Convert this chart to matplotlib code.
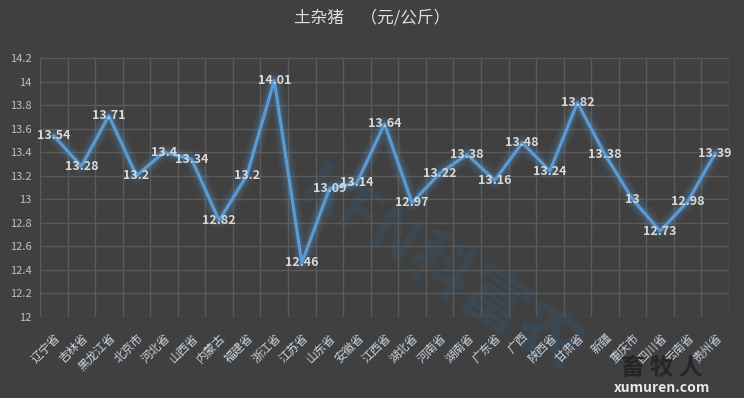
import matplotlib.pyplot as plt
import numpy as np
from matplotlib.ticker import MultipleLocator, FuncFormatter

plt.rcParams['font.family'] = ['Noto Sans CJK SC', 'DejaVu Sans']

provinces = ['辽宁省', '吉林省', '黑龙江省', '北京市', '河北省', '山西省', '内蒙古',
             '福建省', '浙江省', '江苏省', '山东省', '安徽省', '江西省', '湖北省',
             '河南省', '湖南省', '广东省', '广西', '陕西省', '甘肃省', '新疆',
             '重庆市', '四川省', '云南省', '贵州省']
prices = [13.54, 13.28, 13.71, 13.2, 13.4, 13.34, 12.82, 13.2, 14.01, 12.46,
          13.09, 13.14, 13.64, 12.97, 13.22, 13.38, 13.16, 13.48, 13.24, 13.82,
          13.38, 13, 12.73, 12.98, 13.39]
title = '土杂猪　（元/公斤）'

bg = '#404040'
fig = plt.figure(figsize=(7.44, 3.98), dpi=100, facecolor=bg)
ax = fig.add_axes([40/744, 81/398, 689/744, 259/398])
ax.set_facecolor(bg)

x = np.arange(len(provinces))

# watermark
ax.text(0.58, 0.18, 'KFN科富农', transform=ax.transAxes, fontsize=46, fontweight='bold',
        color='#2f5f86', alpha=0.25, rotation=-33, ha='center', va='center', zorder=0)

# glow around the line
for lw, a in [(13, 0.04), (10, 0.07), (7, 0.1), (4.5, 0.15)]:
    ax.plot(x, prices, color='#5b9bd5', linewidth=lw, alpha=a, solid_joinstyle='round',
            solid_capstyle='round', zorder=2)
ax.plot(x, prices, color='#5b9bd5', linewidth=2.2, solid_joinstyle='round', zorder=3)

for xi, v in zip(x, prices):
    ax.text(xi, v, '%g' % v, ha='center', va='center', fontsize=9, fontweight='bold',
            color='#d9d9d9', zorder=4)

ax.set_xlim(-0.5, len(provinces) - 0.5)
ax.set_ylim(12, 14.2)
ax.yaxis.set_major_locator(MultipleLocator(0.2))
ax.yaxis.set_major_formatter(FuncFormatter(lambda v, p: '%g' % round(v, 1)))
ax.set_xticks(x)
ax.set_xticklabels(provinces, rotation=45, ha='right', rotation_mode='anchor',
                   fontsize=8.5, color='#c8d4e0')
ax.set_xticks(np.arange(-0.5, len(provinces)), minor=True)
ax.tick_params(axis='y', colors='#bfbfbf', labelsize=8, length=0, pad=6)
ax.tick_params(axis='x', which='both', length=0, pad=10)

ax.grid(axis='y', color='#5a5a5a', linewidth=1)
ax.grid(axis='x', which='minor', color='#5a5a5a', linewidth=1)
ax.set_axisbelow(True)
for s in ax.spines.values():
    s.set_visible(False)

fig.text(0.5, 1 - 18/398, title, ha='center', va='center', fontsize=12,
         color='#e0e0e0')

fig.text(0.89, 0.075, '畜 牧 人', ha='center', va='center', fontsize=17,
         fontweight='bold', color='#262626')
fig.text(0.89, 0.025, 'xumuren.com', ha='center', va='center', fontsize=10,
         fontweight='bold', color='#e8e8e8')

fig.savefig('out.png', dpi=100, facecolor=bg)
